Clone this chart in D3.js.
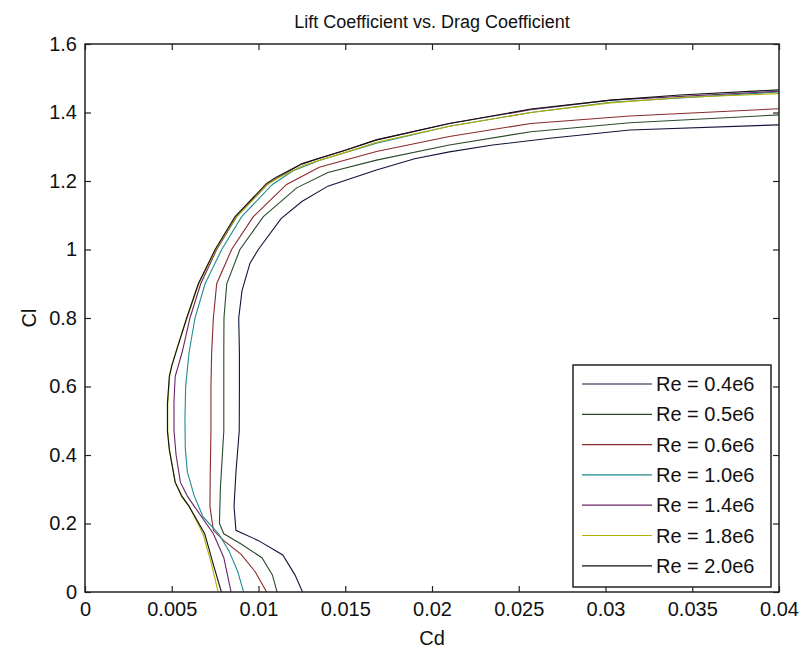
<!DOCTYPE html>
<html>
<head>
<meta charset="utf-8">
<script src="https://cdn.jsdelivr.net/npm/d3@7"></script>
<style>
  body { margin: 0; background: #fff; }
  text { font-family: "Liberation Sans", Arial, sans-serif; fill: #111; }
</style>
</head>
<body>
<div id="chart"></div>
<script>
// Cd / Cl pairs per Reynolds number
var re04 = [[0.01254,0],[0.0121,0.05],[0.0114,0.108],[0.0100,0.15],[0.0087,0.18],[0.00859,0.25],[0.0087,0.35],[0.00889,0.47],[0.0089,0.6],[0.0089,0.7],[0.00886,0.80],[0.00905,0.88],[0.00951,0.96],[0.00999,1.0],[0.0113,1.09],[0.0125,1.14],[0.0140,1.185],[0.0155,1.21],[0.0168,1.232],[0.019,1.265],[0.021,1.285],[0.0235,1.305],[0.0268,1.325],[0.0314,1.349],[0.040,1.364]];
var re05 = [[0.01107,0],[0.0108,0.05],[0.0102,0.10],[0.0090,0.14],[0.0080,0.17],[0.00775,0.2],[0.0078,0.3],[0.0080,0.47],[0.0080,0.6],[0.0080,0.7],[0.00801,0.80],[0.00817,0.90],[0.00893,1.0],[0.01028,1.096],[0.0122,1.18],[0.014,1.225],[0.0168,1.261],[0.021,1.305],[0.0257,1.344],[0.0314,1.37],[0.040,1.393]];
var re06 = [[0.01047,0],[0.0098,0.06],[0.0090,0.11],[0.0080,0.15],[0.0074,0.18],[0.0072,0.25],[0.00722,0.35],[0.00726,0.47],[0.00726,0.6],[0.0073,0.7],[0.0074,0.80],[0.00759,0.90],[0.00845,1.0],[0.0097,1.096],[0.01162,1.19],[0.0135,1.24],[0.0168,1.286],[0.021,1.33],[0.0257,1.368],[0.0314,1.39],[0.040,1.411]];
var re10 = [[0.00914,0],[0.0088,0.06],[0.0083,0.12],[0.0077,0.17],[0.0068,0.22],[0.0063,0.28],[0.0059,0.35],[0.00578,0.42],[0.00576,0.50],[0.0058,0.60],[0.0060,0.70],[0.00634,0.80],[0.00692,0.90],[0.00788,1.0],[0.00903,1.096],[0.0108,1.19],[0.0120,1.23],[0.0135,1.26],[0.0168,1.31],[0.021,1.36],[0.0257,1.40],[0.0303,1.43],[0.040,1.46]];
var re14 = [[0.00842,0],[0.0080,0.1],[0.0074,0.17],[0.0063,0.25],[0.0059,0.28],[0.0055,0.32],[0.00525,0.40],[0.00513,0.47],[0.00513,0.56],[0.0052,0.63],[0.0056,0.70],[0.00605,0.80],[0.00667,0.90],[0.00759,1.0],[0.00874,1.096],[0.01057,1.193],[0.0113,1.215],[0.0125,1.25],[0.0150,1.29],[0.0168,1.32],[0.021,1.368],[0.0257,1.408],[0.0303,1.436],[0.040,1.462]];
var re18 = [[0.00767,0],[0.0073,0.08],[0.0068,0.17],[0.0060,0.25],[0.0056,0.28],[0.0052,0.32],[0.00487,0.415],[0.00477,0.47],[0.00477,0.55],[0.00488,0.63],[0.0050,0.66],[0.0053,0.71],[0.00588,0.80],[0.00656,0.90],[0.00755,1.0],[0.0087,1.094],[0.01052,1.19],[0.0111,1.208],[0.0126,1.246],[0.0151,1.285],[0.0168,1.313],[0.021,1.36],[0.0257,1.40],[0.0303,1.428],[0.0343,1.444],[0.040,1.455]];
var re20 = [[0.00786,0],[0.0074,0.08],[0.0069,0.17],[0.0060,0.25],[0.00557,0.28],[0.0052,0.32],[0.00486,0.415],[0.00475,0.47],[0.00475,0.55],[0.00486,0.63],[0.0050,0.66],[0.0053,0.71],[0.00586,0.80],[0.00653,0.90],[0.0075,1.0],[0.00865,1.096],[0.01047,1.193],[0.0110,1.21],[0.0125,1.25],[0.0134,1.265],[0.0150,1.29],[0.0168,1.32],[0.021,1.368],[0.0257,1.41],[0.0303,1.436],[0.0343,1.451],[0.040,1.466]];

var seriesNames = ['Re = 0.4e6','Re = 0.5e6','Re = 0.6e6','Re = 1.0e6','Re = 1.4e6','Re = 1.8e6','Re = 2.0e6'];
var seriesData = [re04, re05, re06, re10, re14, re18, re20];
var seriesColors = ['#14143c','#2b4a2b','#8a2a2a','#1f8c8c','#6a2468','#b4b000','#111111'];

var xTicks = [0,0.005,0.01,0.015,0.02,0.025,0.03,0.035,0.04];
var xTickLabels = ['0','0.005','0.01','0.015','0.02','0.025','0.03','0.035','0.04'];
var yTicks = [0,0.2,0.4,0.6,0.8,1,1.2,1.4,1.6];
var yTickLabels = ['0','0.2','0.4','0.6','0.8','1','1.2','1.4','1.6'];

var width = 803, height = 652;
var plotLeft = 85, plotRight = 779, plotTop = 44, plotBottom = 592;

var svg = d3.select('#chart')
  .append('svg')
  .attr('width', width)
  .attr('height', height);

var xScale = d3.scaleLinear().domain([0,0.04]).range([plotLeft,plotRight]);
var yScale = d3.scaleLinear().domain([0,1.6]).range([plotBottom,plotTop]);

svg.append('clipPath').attr('id','plotclip')
  .append('rect')
  .attr('x', plotLeft).attr('y', plotTop)
  .attr('width', plotRight-plotLeft).attr('height', plotBottom-plotTop);

// curves
var line = d3.line()
  .x(function(d){ return xScale(d[0]); })
  .y(function(d){ return yScale(d[1]); });

svg.append('g')
  .attr('clip-path','url(#plotclip)')
  .selectAll('path')
  .data(seriesData)
  .enter()
  .append('path')
  .attr('d', line)
  .attr('fill','none')
  .attr('stroke', function(d,i){ return seriesColors[i]; })
  .attr('stroke-width', 1.1);

// axes, ticks pointing inward like matlab
var xAxis = d3.axisBottom(xScale)
  .tickValues(xTicks)
  .tickFormat(function(d,i){ return xTickLabels[i]; })
  .tickSizeInner(-6).tickSizeOuter(0).tickPadding(10);
var yAxis = d3.axisLeft(yScale)
  .tickValues(yTicks)
  .tickFormat(function(d,i){ return yTickLabels[i]; })
  .tickSizeInner(-6).tickSizeOuter(0).tickPadding(8);
var xAxisTop = d3.axisTop(xScale).tickValues(xTicks).tickFormat('').tickSizeInner(-6).tickSizeOuter(0);
var yAxisRight = d3.axisRight(yScale).tickValues(yTicks).tickFormat('').tickSizeInner(-6).tickSizeOuter(0);

var gx = svg.append('g').attr('transform','translate(0,' + plotBottom + ')').call(xAxis);
var gy = svg.append('g').attr('transform','translate(' + plotLeft + ',0)').call(yAxis);
var gxt = svg.append('g').attr('transform','translate(0,' + plotTop + ')').call(xAxisTop);
var gyr = svg.append('g').attr('transform','translate(' + plotRight + ',0)').call(yAxisRight);

[gx, gy, gxt, gyr].forEach(function(g){
  g.select('.domain').remove();
  g.selectAll('line').attr('stroke','#222').attr('stroke-width',1.2);
  g.selectAll('text')
    .style('font-family','"Liberation Sans", Arial, sans-serif')
    .style('font-size','20px')
    .attr('fill','#111');
});

svg.append('rect')
  .attr('x', plotLeft).attr('y', plotTop)
  .attr('width', plotRight-plotLeft).attr('height', plotBottom-plotTop)
  .attr('fill','none')
  .attr('stroke','#222')
  .attr('stroke-width',1.5);

// titles
svg.append('text')
  .attr('x', (plotLeft+plotRight)/2)
  .attr('y', 28)
  .attr('text-anchor','middle')
  .style('font-size','18px')
  .text('Lift Coefficient vs. Drag Coefficient');

svg.append('text')
  .attr('x', (plotLeft+plotRight)/2)
  .attr('y', 645)
  .attr('text-anchor','middle')
  .style('font-size','20px')
  .text('Cd');

svg.append('text')
  .attr('transform','translate(36,' + (plotTop+plotBottom)/2 + ') rotate(-90)')
  .attr('text-anchor','middle')
  .style('font-size','20px')
  .text('Cl');

// legend
var legendX = 573, legendY = 365, legendW = 198, legendH = 222;
var legend = svg.append('g');

legend.append('rect')
  .attr('x', legendX).attr('y', legendY)
  .attr('width', legendW).attr('height', legendH)
  .attr('fill','#fff')
  .attr('stroke','#222')
  .attr('stroke-width',1.5);

var items = legend.selectAll('g.item')
  .data(seriesNames)
  .enter()
  .append('g')
  .attr('class','item')
  .attr('transform', function(d,i){ return 'translate(0,' + (legendY + 19 + i*30.3) + ')'; });

items.append('line')
  .attr('x1', 582).attr('x2', 652)
  .attr('y1', 0).attr('y2', 0)
  .attr('stroke', function(d,i){ return seriesColors[i]; })
  .attr('stroke-width', 1.2);

items.append('text')
  .attr('x', 656)
  .attr('y', 7)
  .style('font-size','20px')
  .text(function(d){ return d; });
</script>
</body>
</html>
